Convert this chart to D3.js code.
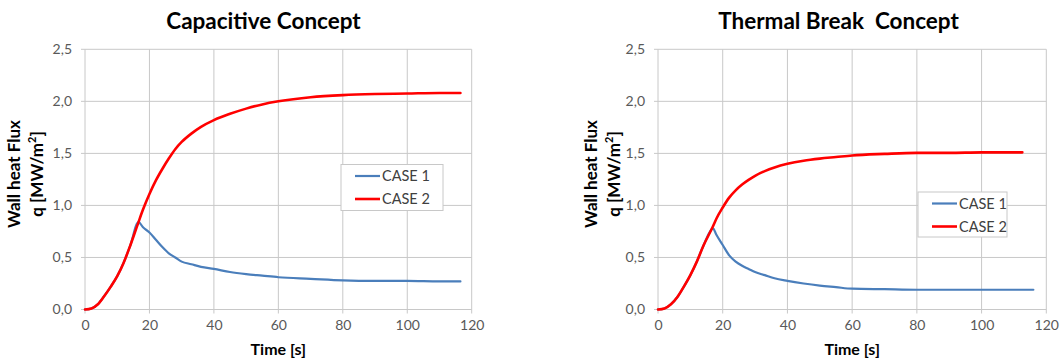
<!DOCTYPE html>
<html>
<head>
<meta charset="utf-8">
<script src="https://cdn.jsdelivr.net/npm/d3@7"></script>
<style>
  html, body { margin: 0; padding: 0; background: #fff; }
  svg { display: block; }
</style>
</head>
<body>
<svg id="chart" width="1062" height="360"></svg>
<script>
// ---------- DATA ----------
const yTicks = [0, 0.5, 1.0, 1.5, 2.0, 2.5];
const xTicks = [0, 20, 40, 60, 80, 100, 120];
const seriesNames = ["CASE 1", "CASE 2"];

// Capacitive Concept
const capTime  = [0, 2, 4, 6, 8, 10, 12, 14, 16.6, 18, 20, 22, 24, 26, 28, 30, 33, 36, 40, 45, 50, 55, 60, 70, 80, 90, 100, 110, 116.5];
const capCase1 = [0, 0.01, 0.05, 0.13, 0.22, 0.32, 0.45, 0.61, 0.84, 0.79, 0.74, 0.67, 0.60, 0.54, 0.50, 0.46, 0.435, 0.41, 0.39, 0.36, 0.34, 0.325, 0.31, 0.295, 0.28, 0.275, 0.275, 0.27, 0.27];
const capCase2 = [0, 0.01, 0.05, 0.13, 0.22, 0.32, 0.45, 0.61, 0.84, 0.96, 1.11, 1.24, 1.35, 1.45, 1.54, 1.61, 1.69, 1.755, 1.82, 1.88, 1.93, 1.97, 2.00, 2.04, 2.06, 2.07, 2.075, 2.08, 2.08];

// Thermal Break Concept
const thbTime  = [0, 2, 4, 6, 8, 10, 12, 14, 17, 18, 20, 22, 24, 26, 28, 30, 33, 36, 40, 45, 50, 55, 60, 70, 80, 90, 100, 110, 112.6, 116];
const thbCase1 = [0, 0.01, 0.05, 0.12, 0.22, 0.33, 0.46, 0.61, 0.78, 0.72, 0.62, 0.52, 0.46, 0.42, 0.39, 0.36, 0.33, 0.30, 0.275, 0.25, 0.23, 0.215, 0.20, 0.195, 0.19, 0.19, 0.19, 0.19, 0.19, 0.19];
const thbCase2 = [0, 0.01, 0.05, 0.12, 0.22, 0.33, 0.46, 0.61, 0.80, 0.87, 0.98, 1.075, 1.145, 1.20, 1.245, 1.285, 1.33, 1.365, 1.40, 1.43, 1.45, 1.465, 1.48, 1.495, 1.505, 1.505, 1.51, 1.51, 1.51, null];

const panels = [
  { title: "Capacitive Concept", time: capTime, s1: capCase1, s2: capCase2,
    x0: 85, x1: 471.7, titleX: 263.5, yLab1: 20, yLab2: 43, legend: {x: 341, y: 164.5, w: 102, h: 46} },
  { title: "Thermal Break\u00a0\u00a0Concept", time: thbTime, s1: thbCase1, s2: thbCase2,
    x0: 658, x1: 1046.3, titleX: 838.5, yLab1: 597, yLab2: 620, legend: {x: 918, y: 192, w: 89, h: 45} }
];

const colors = ["#4a7ebb", "#ff0000"];
const widths = [2.2, 2.6];
const fontFam = "Lato, 'Open Sans', sans-serif";

const svg = d3.select("#chart");
const yTop = 49.3, yBot = 309.5;

panels.forEach(p => {
  const x = d3.scaleLinear().domain([0, 120]).range([p.x0, p.x1]);
  const y = d3.scaleLinear().domain([0, 2.5]).range([yBot, yTop]);
  const g = svg.append("g");

  // grid
  g.append("g").selectAll("line.v").data(xTicks).join("line")
    .attr("x1", d => x(d)).attr("x2", d => x(d))
    .attr("y1", yTop).attr("y2", yBot + 4)
    .attr("stroke", "#c8c8c8").attr("stroke-width", 1);
  g.append("g").selectAll("line.h").data(yTicks).join("line")
    .attr("x1", p.x0 - 4).attr("x2", p.x1)
    .attr("y1", d => y(d)).attr("y2", d => y(d))
    .attr("stroke", "#c8c8c8").attr("stroke-width", 1);

  // axes labels via d3 axes (no domain/ticks lines)
  const fmt = d => d3.format(".1f")(d).replace(".", ",");
  const ya = g.append("g").attr("transform", `translate(${p.x0},0)`)
    .call(d3.axisLeft(y).tickValues(yTicks).tickFormat(fmt).tickSize(0).tickPadding(13));
  ya.select(".domain").remove();
  ya.selectAll("text").attr("fill", "#595959").style("font-family", fontFam).style("font-size", "14px");

  const xa = g.append("g").attr("transform", `translate(0,${yBot})`)
    .call(d3.axisBottom(x).tickValues(xTicks).tickFormat(d3.format("d")).tickSize(0).tickPadding(11));
  xa.select(".domain").remove();
  xa.selectAll("text").attr("fill", "#595959").style("font-family", fontFam).style("font-size", "14px");

  // lines
  const rows = p.time.map((t, i) => ({t, a: p.s1[i], b: p.s2[i]}));
  [["a", 0], ["b", 1]].forEach(([k, ci]) => {
    const line = d3.line().defined(d => d[k] != null)
      .x(d => x(d.t)).y(d => y(d[k])).curve(d3.curveMonotoneX);
    g.append("path").datum(rows).attr("d", line)
      .attr("fill", "none").attr("stroke", colors[ci]).attr("stroke-width", widths[ci])
      .attr("stroke-linejoin", "round").attr("stroke-linecap", "round");
  });

  // title
  g.append("text").attr("x", p.titleX).attr("y", 29).attr("text-anchor", "middle")
    .style("font-family", fontFam).style("font-weight", "bold").style("font-size", "22.5px")
    .attr("fill", "#000").text(p.title);

  // x title
  g.append("text").attr("x", (p.x0 + p.x1) / 2).attr("y", 355).attr("text-anchor", "middle")
    .style("font-family", fontFam).style("font-weight", "bold").style("font-size", "16px")
    .attr("fill", "#000").text("Time [s]");

  // y title (two lines)
  const yc = 174;
  g.append("text").attr("transform", `translate(${p.yLab1},${yc}) rotate(-90)`).attr("text-anchor", "middle")
    .style("font-family", fontFam).style("font-weight", "bold").style("font-size", "17px")
    .attr("fill", "#000").text("Wall heat Flux");
  const t2 = g.append("text").attr("transform", `translate(${p.yLab2},${yc}) rotate(-90)`).attr("text-anchor", "middle")
    .style("font-family", fontFam).style("font-weight", "bold").style("font-size", "17px")
    .attr("fill", "#000");
  t2.append("tspan").text("q [MW/m");
  t2.append("tspan").attr("dy", -7).style("font-size", "11px").text("2");
  t2.append("tspan").attr("dy", 7).text("]");

  // legend
  const L = p.legend;
  const lg = g.append("g");
  lg.append("rect").attr("x", L.x).attr("y", L.y).attr("width", L.w).attr("height", L.h)
    .attr("fill", "#fff").attr("stroke", "#c8c8c8").attr("stroke-width", 1);
  seriesNames.forEach((name, i) => {
    const ry = L.y + 11.5 + i * 23;
    lg.append("line").attr("x1", L.x + 14).attr("x2", L.x + 39).attr("y1", ry).attr("y2", ry)
      .attr("stroke", colors[i]).attr("stroke-width", widths[i]);
    lg.append("text").attr("x", L.x + 41).attr("y", ry).attr("dy", "0.35em")
      .style("font-family", fontFam).style("font-size", "14.5px").attr("fill", "#404040").text(name);
  });
});
</script>
</body>
</html>
